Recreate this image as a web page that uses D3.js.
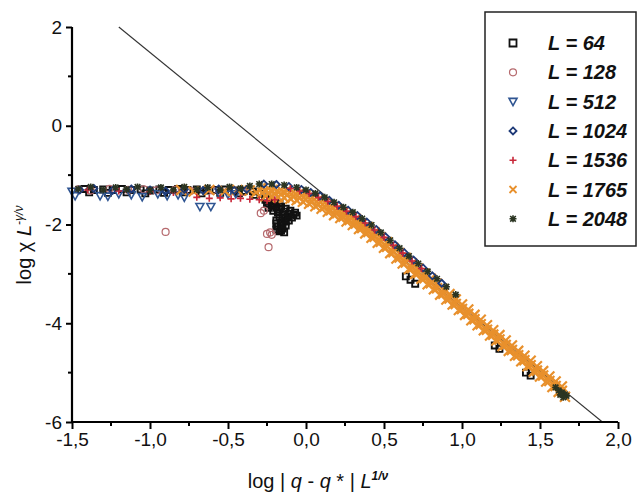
<!DOCTYPE html>
<html><head><meta charset="utf-8">
<script src="https://cdn.jsdelivr.net/npm/d3@7/dist/d3.min.js"></script>
<style>body{margin:0;background:#fff}svg{display:block}</style>
</head><body>
<svg id="c" width="639" height="495"></svg>
<script>
// ---------- data ----------
const xTicks = [-1.5,-1.0,-0.5,0.0,0.5,1.0,1.5,2.0];
const xTickLabels = ["-1,5","-1,0","-0,5","0,0","0,5","1,0","1,5","2,0"];
const xMinorTicks = [-1.25,-0.75,-0.25,0.25,0.75,1.25,1.75];
const yTicks = [2,0,-2,-4,-6];
const yTickLabels = ["2","0","-2","-4","-6"];
const yMinorTicks = [1,-1,-3,-5];
const fitLine = [[-1.2,2.0],[1.9,-6.0]];
const seriesNames = ["L = 64","L = 128","L = 512","L = 1024","L = 1536","L = 1765","L = 2048"];

const L64 = [[-1.42,-1.28],[-1.36,-1.30],[-1.30,-1.29],[-1.24,-1.30],[-1.18,-1.28],[-1.12,-1.30],[-1.06,-1.29],[-1.00,-1.31],[-0.94,-1.29],[-0.88,-1.30],[-0.82,-1.28],[-0.76,-1.30],[-0.70,-1.29],[-0.64,-1.31],[-0.58,-1.30],[-0.52,-1.29],[-0.46,-1.31],[-0.40,-1.32],[-0.34,-1.33],[-0.29,-1.38],[-0.26,-1.45],
 [-1.39,-1.35],[-1.27,-1.36],[-1.15,-1.35],[-1.03,-1.37],[-0.91,-1.36],[-0.79,-1.35],[-0.67,-1.37],[-0.55,-1.36],[-0.43,-1.37],[-0.33,-1.40],
 [-0.26,-1.50],[-0.23,-1.52],[-0.20,-1.54],[-0.17,-1.56],[-0.22,-1.62],[-0.19,-1.66],[-0.16,-1.64],[-0.13,-1.68],[-0.10,-1.72],[-0.07,-1.76],[-0.18,-1.76],[-0.15,-1.80],[-0.12,-1.84],[-0.09,-1.86],[-0.06,-1.82],[-0.19,-1.92],[-0.16,-1.96],[-0.13,-1.94],[-0.18,-2.04],[-0.15,-2.08],[-0.17,-2.14],[-0.14,-2.16],
 [-0.25,-1.58],[-0.21,-1.58],[-0.24,-1.66],[-0.21,-1.72],[-0.17,-1.70],[-0.14,-1.74],[-0.11,-1.78],[-0.08,-1.80],[-0.17,-1.86],[-0.14,-1.88],[-0.11,-1.92],[-0.19,-1.98],[-0.16,-2.02],[-0.13,-2.02],[-0.16,-2.12],[-0.19,-2.10],
 [0.64,-3.05],[0.67,-3.12],[0.70,-3.20],[1.21,-4.45],[1.24,-4.52],[1.41,-5.00],[1.44,-5.06]];
const L128 = [[-1.46,-1.29],[-1.38,-1.31],[-1.26,-1.28],[-1.14,-1.30],[-1.04,-1.29],[-0.96,-1.31],[-0.84,-1.30],[-0.74,-1.32],[-0.60,-1.31],[-0.50,-1.33],[-0.40,-1.34],
 [-0.90,-2.15],[-0.29,-1.77],[-0.27,-1.72],[-0.25,-2.19],[-0.23,-2.16],[-0.24,-2.46],[-0.22,-2.21]];
const L512 = [[-1.50,-1.33],[-1.48,-1.42],[-1.32,-1.42],[-1.27,-1.43],[-1.20,-1.38],[-1.12,-1.40],[-1.05,-1.44],[-0.95,-1.38],[-0.89,-1.42],[-0.82,-1.40],[-0.78,-1.45],[-0.68,-1.64],[-0.61,-1.64],[-0.55,-1.40],[-0.50,-1.39],[-0.45,-1.38]];
const L1024 = [[-1.45,-1.30],[-1.36,-1.27],[-1.24,-1.31],[-1.12,-1.28],[-1.00,-1.30],[-0.90,-1.32],[-0.78,-1.29],[-0.66,-1.31],[-0.56,-1.28],[-0.46,-1.31],[-0.38,-1.29],
 [-0.27,-1.18],[-0.19,-1.19],[-0.11,-1.23],[-0.03,-1.29],[0.03,-1.35],[0.09,-1.42],[0.15,-1.51],[0.21,-1.61],[0.27,-1.71],[0.33,-1.82],[0.39,-1.95],[0.45,-2.10],[0.51,-2.25],[0.57,-2.41],[0.63,-2.57],[0.69,-2.72],[0.75,-2.88],[0.81,-3.04],[0.87,-3.19]];
const L1536 = [[-1.40,-1.30],[-1.20,-1.32],[-1.00,-1.33],[-0.85,-1.35],
 [-0.70,-1.45],[-0.62,-1.47],[-0.55,-1.46],[-0.48,-1.48],[-0.42,-1.47],[-0.36,-1.49],[-0.30,-1.50],[-0.25,-1.52],[-0.20,-1.50],
 [-0.10,-1.27],[-0.04,-1.32],[0.02,-1.37],[0.08,-1.45],[0.14,-1.53],[0.20,-1.63],[0.26,-1.73],[0.32,-1.84],[0.38,-1.97],[0.44,-2.11],[0.50,-2.26],[0.56,-2.42],[0.62,-2.58],[0.68,-2.74],[0.74,-2.89]];
const L1765 = [[-0.80,-1.30],[-0.72,-1.33],[-0.62,-1.30],[-0.52,-1.32],[-0.44,-1.30],[-0.36,-1.31],[-0.32,-1.35],
 [-0.28,-1.26],[-0.24,-1.27],[-0.20,-1.28],[-0.16,-1.30],[-0.12,-1.31],[-0.08,-1.34],[-0.04,-1.37],[0.00,-1.40],[0.04,-1.45],[0.08,-1.50],[0.12,-1.55],[0.16,-1.62],[0.20,-1.68],[0.24,-1.75],[0.28,-1.82],[0.32,-1.89],[0.36,-1.98],[0.40,-2.06],[0.44,-2.16],[0.48,-2.26],[0.52,-2.36],[0.56,-2.47],[0.60,-2.58],[0.64,-2.68],[0.68,-2.79],[0.72,-2.89],[0.76,-3.00],[0.80,-3.10],[0.84,-3.20],[0.88,-3.31],[0.92,-3.41],[0.96,-3.52],[1.00,-3.62],[1.04,-3.72],[1.08,-3.83],[1.12,-3.93],[1.16,-4.04],[1.20,-4.14],[1.24,-4.24],[1.28,-4.35],[1.32,-4.45],[1.36,-4.56],[1.40,-4.66],[1.44,-4.76],[1.48,-4.87],[1.52,-4.97],[1.56,-5.08],[1.60,-5.18],[1.64,-5.28],
 [-0.28,-1.35],[-0.24,-1.36],[-0.20,-1.37],[-0.16,-1.39],[-0.12,-1.40],[-0.08,-1.43],[-0.04,-1.46],[0.00,-1.49],[0.04,-1.54],[0.08,-1.59],[0.12,-1.64],[0.16,-1.71],[0.20,-1.77],[0.24,-1.84],[0.28,-1.91],[0.32,-1.98],[0.36,-2.07],[0.40,-2.15],[0.44,-2.25],[0.48,-2.35],[0.52,-2.45],[0.56,-2.56],[0.60,-2.67],[0.64,-2.77],[0.68,-2.88],[0.72,-2.98],[0.76,-3.09],[0.80,-3.19],[0.84,-3.29],[0.88,-3.40],[0.92,-3.50],[0.96,-3.61],[1.00,-3.71],[1.04,-3.81],[1.08,-3.92],[1.12,-4.02],[1.16,-4.13],[1.20,-4.23],[1.24,-4.33],[1.28,-4.44],[1.32,-4.54],[1.36,-4.65],[1.40,-4.75],[1.44,-4.85],[1.48,-4.96],[1.52,-5.06],[1.56,-5.17],[1.60,-5.27],[1.64,-5.37],
 [-0.26,-1.43],[-0.22,-1.44],[-0.18,-1.45],[-0.14,-1.46],[-0.10,-1.48],[-0.06,-1.51],[-0.02,-1.54],[0.02,-1.58],[0.06,-1.63],[0.10,-1.68],[0.14,-1.74],[0.18,-1.81],[0.22,-1.87],[0.26,-1.94],[0.30,-2.01],[0.34,-2.09],[0.38,-2.18],[0.42,-2.27],[0.46,-2.37],[0.50,-2.47],[0.54,-2.58],[0.58,-2.69],[0.62,-2.79],[0.66,-2.90],[0.70,-3.00],[0.74,-3.10],[0.78,-3.21],[0.82,-3.31],[0.86,-3.42],[0.90,-3.52],[0.94,-3.62],[0.98,-3.73],[1.02,-3.83],[1.06,-3.94],[1.10,-4.04],[1.14,-4.14],[1.18,-4.25],[1.22,-4.35],[1.26,-4.46],[1.30,-4.56],[1.34,-4.66],[1.38,-4.77],[1.42,-4.87],[1.46,-4.98],[1.50,-5.08],[1.54,-5.18],[1.58,-5.29],[1.62,-5.39],[1.66,-5.49]];
const L2048 = [[-1.46,-1.28],[-1.30,-1.30],[-1.15,-1.29],[-1.00,-1.31],[-0.85,-1.30],[-0.70,-1.29],[-0.55,-1.30],[-0.42,-1.27],
 [-1.38,-1.24],[-1.22,-1.25],[-1.08,-1.24],[-0.93,-1.25],[-0.78,-1.24],[-0.63,-1.25],[-0.49,-1.24],[-0.36,-1.22],
 [-0.30,-1.18],[-0.22,-1.18],[-0.14,-1.20],[-0.06,-1.25],[0.00,-1.30],[0.06,-1.37],[0.12,-1.45],[0.18,-1.55],[0.24,-1.65],[0.30,-1.75],[0.36,-1.88],[0.42,-2.01],[0.48,-2.16],[0.54,-2.32],[0.60,-2.48],[0.66,-2.64],[0.72,-2.79],[0.78,-2.95],[0.84,-3.10],[0.90,-3.26],[0.96,-3.42],
 [1.60,-5.30],[1.62,-5.36],[1.64,-5.40],[1.66,-5.44],[1.67,-5.47],[1.65,-5.50],[1.63,-5.45]];

// ---------- layout ----------
const svg = d3.select("#c");
const x = d3.scaleLinear().domain([-1.5,2.0]).range([72,618]);
const y = d3.scaleLinear().domain([-6,2]).range([422,27]);
const FONT = "Arial, 'Liberation Sans', sans-serif";

svg.append("line")
  .attr("x1", x(fitLine[0][0])).attr("y1", y(fitLine[0][1]))
  .attr("x2", x(fitLine[1][0])).attr("y2", y(fitLine[1][1]))
  .attr("stroke","#333").attr("stroke-width",1.1);

const S = {
  square: s => `M${-s/2},${-s/2}h${s}v${s}h${-s}Z`,
  circle: s => `M${s/2},0A${s/2},${s/2} 0 1,1 ${-s/2},0A${s/2},${s/2} 0 1,1 ${s/2},0Z`,
  tri: s => `M${-s/2},${-s*0.4}L${s/2},${-s*0.4}L0,${s*0.5}Z`,
  diamond: s => `M0,${-s/2}L${s/2},0L0,${s/2}L${-s/2},0Z`,
  plus: s => `M${-s/2},0H${s/2}M0,${-s/2}V${s/2}`,
  cross: s => `M${-s/2},${-s/2}L${s/2},${s/2}M${-s/2},${s/2}L${s/2},${-s/2}`,
  star: s => `M${-s/2},0H${s/2}M0,${-s/2}V${s/2}M${-s*0.4},${-s*0.4}L${s*0.4},${s*0.4}M${-s*0.4},${s*0.4}L${s*0.4},${-s*0.4}`
};
const styles = [
  {name:seriesNames[0], data:L64,   sym:"square",  size:6,  legSize:7, color:"#111111", sw:1.9},
  {name:seriesNames[1], data:L128,  sym:"circle",  size:7,  legSize:7, color:"#b66a6e", sw:1.2},
  {name:seriesNames[2], data:L512,  sym:"tri",     size:8,  legSize:8, color:"#2f5592", sw:1.6},
  {name:seriesNames[5], data:L1765, sym:"cross",   size:10, legSize:7, color:"#e8902c", sw:2.2},
  {name:seriesNames[3], data:L1024, sym:"diamond", size:7,  legSize:7, color:"#1e3a78", sw:1.8},
  {name:seriesNames[4], data:L1536, sym:"plus",    size:7,  legSize:7, color:"#c8283a", sw:1.6},
  {name:seriesNames[6], data:L2048, sym:"star",    size:7,  legSize:7, color:"#2b3522", sw:1.6}
];

const marks = svg.append("g");
styles.forEach(st => {
  marks.append("g").selectAll("path").data(st.data).join("path")
    .attr("transform", d => `translate(${x(d[0])},${y(d[1])})`)
    .attr("d", S[st.sym](st.size))
    .attr("fill","none").attr("stroke", st.color).attr("stroke-width", st.sw);
});

// axes
const ax = svg.append("g").attr("transform",`translate(0,${y(-6)})`)
  .call(d3.axisBottom(x).tickValues(xTicks).tickFormat((d,i)=>xTickLabels[i]).tickSize(7).tickPadding(4));
ax.append("g").selectAll("line").data(xMinorTicks).join("line")
  .attr("x1",d=>x(d)).attr("x2",d=>x(d)).attr("y1",0).attr("y2",4).attr("stroke","#000").attr("stroke-width",2);
const ay = svg.append("g").attr("transform",`translate(${x(-1.5)},0)`)
  .call(d3.axisLeft(y).tickValues(yTicks).tickFormat((d,i)=>yTickLabels[i]).tickSize(6).tickPadding(4));
ay.append("g").selectAll("line").data(yMinorTicks).join("line")
  .attr("y1",d=>y(d)).attr("y2",d=>y(d)).attr("x1",0).attr("x2",-4).attr("stroke","#000").attr("stroke-width",2);
[ax,ay].forEach(a=>{
  a.select(".domain").attr("stroke","#000").attr("stroke-width",2.2).attr("d", a===ax ? `M${x(-1.5)},0H${x(2.0)}` : `M0,${y(2)}V${y(-6)}`);
  a.selectAll(".tick line").attr("stroke","#000").attr("stroke-width",2);
  a.selectAll("text").attr("fill","#111").style("font-family",FONT).style("font-size","19px");
});

// axis titles
const xt = svg.append("text").attr("x",318).attr("y",488).attr("text-anchor","middle")
  .style("font-family",FONT).style("font-size","20px").attr("fill","#111");
xt.append("tspan").text("log  | ");
xt.append("tspan").attr("font-style","italic").text("q");
xt.append("tspan").text(" - ");
xt.append("tspan").attr("font-style","italic").text("q");
xt.append("tspan").text(" * | ");
xt.append("tspan").attr("font-style","italic").text("L");
xt.append("tspan").attr("font-style","italic").attr("font-weight","bold").attr("dy",-8).style("font-size","12px").text("1/ν");

const yt = svg.append("text").attr("transform","translate(31,245) rotate(-90)").attr("text-anchor","middle")
  .style("font-family",FONT).style("font-size","20px").attr("fill","#111");
yt.append("tspan").text("log ");
yt.append("tspan").text("χ ");
yt.append("tspan").attr("font-style","italic").text("L");
yt.append("tspan").attr("font-style","italic").attr("dy",-8).style("font-size","12px").text("-γ/ν");

// legend (in series order)
const legendOrder = [0,1,2,4,5,3,6];
const lg = svg.append("g");
lg.append("rect").attr("x",485).attr("y",12).attr("width",151).attr("height",234)
  .attr("fill","#fff").attr("stroke","#222").attr("stroke-width",1.5);
legendOrder.forEach((si,i)=>{
  const st = styles[si];
  const ry = 43 + i*29.3;
  lg.append("path").attr("transform",`translate(513,${ry})`).attr("d",S[st.sym](st.legSize))
    .attr("fill","none").attr("stroke",st.color).attr("stroke-width",Math.min(st.sw,1.8));
  lg.append("text").attr("x",548).attr("y",ry+7).text(st.name)
    .style("font-family",FONT).style("font-size","20px").style("font-style","italic").style("font-weight","bold").attr("fill","#111");
});
</script>
</body></html>
